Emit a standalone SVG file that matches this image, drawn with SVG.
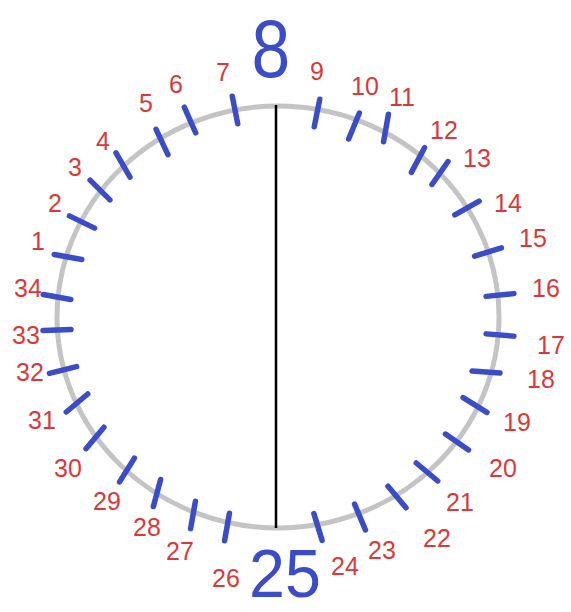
<svg xmlns="http://www.w3.org/2000/svg" width="571" height="612" viewBox="0 0 571 612">
<style>
.t{stroke:#3a4cc8;stroke-width:5.5;stroke-linecap:round}
.n{font-family:"Liberation Sans",Arial,sans-serif;font-size:25px;fill:#d9393a;text-anchor:middle}
.b{font-family:"Liberation Sans",Arial,sans-serif;fill:#3a4cc8;text-anchor:middle}
</style>
<rect width="571" height="612" fill="#ffffff"/>
<g id="circle">
<ellipse cx="278" cy="317" rx="221" ry="211" fill="none" stroke="#c4c4c4" stroke-width="5"/>
</g>
<g id="connectors">
<line x1="276" y1="105" x2="276" y2="528" stroke="#000" stroke-width="2.5"/>
</g>
<g id="ticks">
<line class="t" x1="-14" x2="14" transform="translate(317,113) rotate(-78.6)"/>
<line class="t" x1="-14" x2="14" transform="translate(354,126) rotate(-67.6)"/>
<line class="t" x1="-14" x2="14" transform="translate(386,128) rotate(-80)"/>
<line class="t" x1="-14" x2="14" transform="translate(418,160) rotate(-62)"/>
<line class="t" x1="-14" x2="14" transform="translate(440,173) rotate(-55)"/>
<line class="t" x1="-14" x2="14" transform="translate(467,208) rotate(-29.7)"/>
<line class="t" x1="-14" x2="14" transform="translate(488,252) rotate(-17)"/>
<line class="t" x1="-14" x2="14" transform="translate(500,295) rotate(-5.6)"/>
<line class="t" x1="-14" x2="14" transform="translate(500,335) rotate(4.6)"/>
<line class="t" x1="-14" x2="14" transform="translate(486,372) rotate(4)"/>
<line class="t" x1="-14" x2="14" transform="translate(475,405) rotate(32)"/>
<line class="t" x1="-14" x2="14" transform="translate(457,442) rotate(34.6)"/>
<line class="t" x1="-14" x2="14" transform="translate(427,472) rotate(40)"/>
<line class="t" x1="-14" x2="14" transform="translate(397,497) rotate(50)"/>
<line class="t" x1="-14" x2="14" transform="translate(360,517) rotate(67.2)"/>
<line class="t" x1="-14" x2="14" transform="translate(318,527) rotate(73)"/>
<line class="t" x1="-14" x2="14" transform="translate(227,527) rotate(100)"/>
<line class="t" x1="-14" x2="14" transform="translate(193,515) rotate(100)"/>
<line class="t" x1="-14" x2="14" transform="translate(157,493) rotate(105)"/>
<line class="t" x1="-14" x2="14" transform="translate(127,470) rotate(122)"/>
<line class="t" x1="-14" x2="14" transform="translate(95,438) rotate(130)"/>
<line class="t" x1="-14" x2="14" transform="translate(77,403) rotate(140)"/>
<line class="t" x1="-14" x2="14" transform="translate(63,370) rotate(166)"/>
<line class="t" x1="-14" x2="14" transform="translate(57,330) rotate(178)"/>
<line class="t" x1="-14" x2="14" transform="translate(57,297) rotate(190)"/>
<line class="t" x1="-14" x2="14" transform="translate(68,257) rotate(190)"/>
<line class="t" x1="-14" x2="14" transform="translate(82,222) rotate(206)"/>
<line class="t" x1="-14" x2="14" transform="translate(100,190) rotate(225)"/>
<line class="t" x1="-14" x2="14" transform="translate(123,165) rotate(240)"/>
<line class="t" x1="-14" x2="14" transform="translate(162,142) rotate(245)"/>
<line class="t" x1="-14" x2="14" transform="translate(190,120) rotate(246)"/>
<line class="t" x1="-14" x2="14" transform="translate(235,110) rotate(258.8)"/>
</g>
<g id="labels">
<text class="n" x="317" y="80">9</text>
<text class="n" x="365" y="95">10</text>
<text class="n" x="402" y="106">11</text>
<text class="n" x="444" y="139">12</text>
<text class="n" x="477" y="167">13</text>
<text class="n" x="508" y="212">14</text>
<text class="n" x="533" y="247">15</text>
<text class="n" x="546" y="297">16</text>
<text class="n" x="551" y="354">17</text>
<text class="n" x="541" y="388">18</text>
<text class="n" x="517" y="431">19</text>
<text class="n" x="503" y="477">20</text>
<text class="n" x="460" y="511">21</text>
<text class="n" x="437" y="547">22</text>
<text class="n" x="382" y="559">23</text>
<text class="n" x="345" y="575">24</text>
<text class="n" x="226" y="587">26</text>
<text class="n" x="180" y="560">27</text>
<text class="n" x="147" y="536">28</text>
<text class="n" x="107" y="510">29</text>
<text class="n" x="68" y="477">30</text>
<text class="n" x="42" y="429">31</text>
<text class="n" x="30" y="381">32</text>
<text class="n" x="26" y="344">33</text>
<text class="n" x="28" y="297">34</text>
<text class="n" x="38" y="250">1</text>
<text class="n" x="55" y="212">2</text>
<text class="n" x="75" y="176">3</text>
<text class="n" x="103" y="150">4</text>
<text class="n" x="146" y="112">5</text>
<text class="n" x="176" y="93">6</text>
<text class="n" x="223" y="81">7</text>
</g>
<g id="node-8">
<text class="b" font-size="82" transform="translate(271,77) scale(0.85,1)">8</text>
</g>
<g id="node-25">
<text class="b" font-size="68" transform="translate(285,597) scale(0.95,1)">25</text>
</g>
</svg>
